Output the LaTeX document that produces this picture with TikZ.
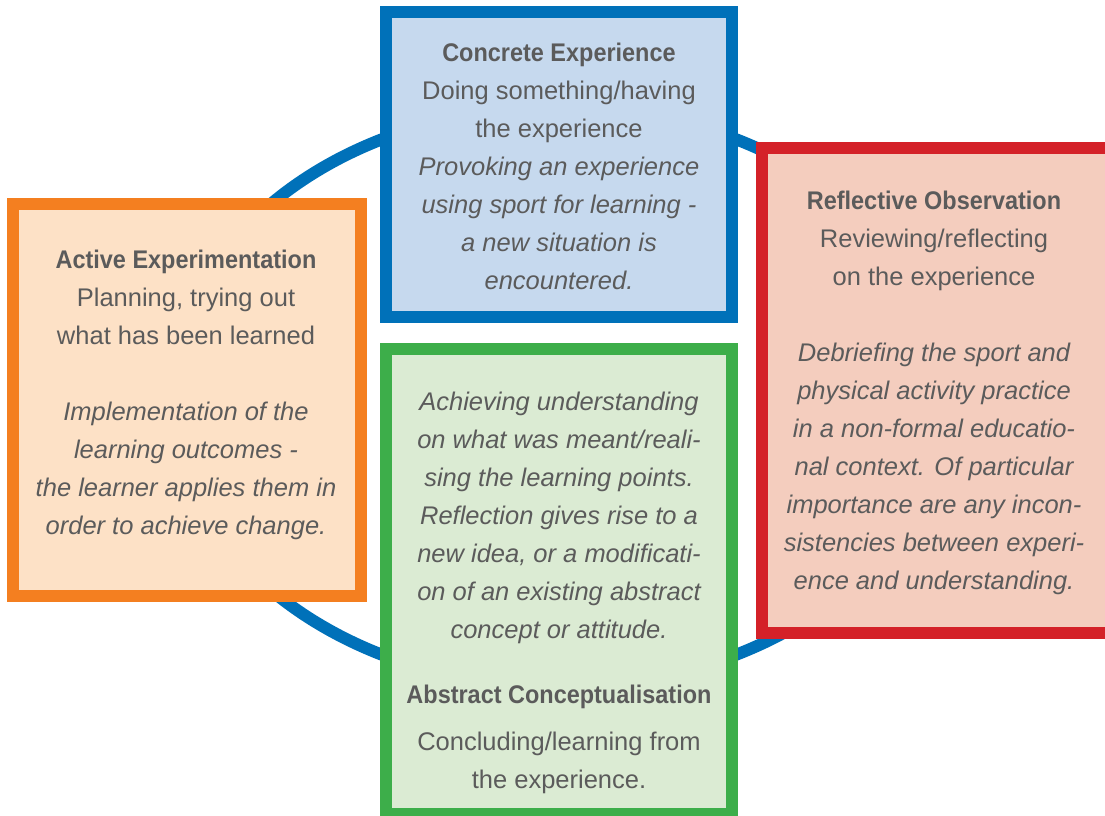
\documentclass[tikz,border=0pt]{standalone}
\usepackage{fontspec}
\setmainfont{Liberation Sans}
\usepackage{graphicx}
\definecolor{ringblue}{HTML}{0071B9}
\definecolor{bluefill}{HTML}{C6D9EE}
\definecolor{orangeline}{HTML}{F47F20}
\definecolor{orangefill}{HTML}{FDE1C6}
\definecolor{redline}{HTML}{D42128}
\definecolor{redfill}{HTML}{F4CDBE}
\definecolor{greenline}{HTML}{3DAE4A}
\definecolor{greenfill}{HTML}{DBEBD3}
\definecolor{txt}{HTML}{5B5B5B}
\newcommand{\hd}[1]{\scalebox{0.92}[1]{\bfseries #1}}
\tikzset{
  panel/.style={rectangle, line width=12pt, inner sep=0pt},
  body/.style={align=center, text=txt, inner sep=0pt, font=\fontsize{25.5pt}{38pt}\selectfont},
}
\begin{document}
\begin{tikzpicture}[x=1pt,y=-1pt]
\useasboundingbox (0,0) rectangle (1105,816);
\clip (0,0) rectangle (1105,816);
\fill[white] (0,0) rectangle (1105,816);
\draw[ringblue, line width=12pt] (559,397) ellipse [x radius=386, y radius=290];

\node[panel, draw=ringblue, fill=bluefill, minimum width=346pt, minimum height=305pt] (ce) at (559,164.5) {};
\node[panel, draw=orangeline, fill=orangefill, minimum width=348pt, minimum height=392pt] (ae) at (187,400) {};
\node[panel, draw=redline, fill=redfill, minimum width=349pt, minimum height=485pt] (ro) at (936.5,390.5) {};
\node[panel, draw=greenline, fill=greenfill, minimum width=346pt, minimum height=465pt] (ac) at (559,581.5) {};

\node[body] (cet) at (559,166) {\hd{Concrete Experience}\\
Doing something/having\\
the experience\\
\itshape Provoking an experience\\
\itshape using sport for learning -\\
\itshape a new situation is\\
\itshape encountered.};

\node[body] (aet) at (186,395) {\hd{Active Experimentation}\\
Planning, trying out\\
what has been learned\\[38pt]
\itshape Implementation of the\\
\itshape learning outcomes -\\
\itshape the learner applies them in\\
\itshape order to achieve change.};

\node[body] (rot) at (934,393) {\hd{Reflective Observation}\\
Reviewing/reflecting\\
on the experience\\[38pt]
\itshape Debriefing the sport and\\
\itshape physical activity practice\\
\itshape in a non-formal educatio-\\
\itshape nal context. Of particular\\
\itshape importance are any incon-\\
\itshape sistencies between experi-\\
\itshape ence and understanding.};

\node[body] (act) at (559,593) {\itshape Achieving understanding\\
\itshape on what was meant/reali-\\
\itshape sing the learning points.\\
\itshape Reflection gives rise to a\\
\itshape new idea, or a modificati-\\
\itshape on of an existing abstract\\
\itshape concept or attitude.\\[27pt]
\hd{Abstract Conceptualisation}\\[9pt]
Concluding/learning from\\
the experience.};
\end{tikzpicture}
\end{document}
